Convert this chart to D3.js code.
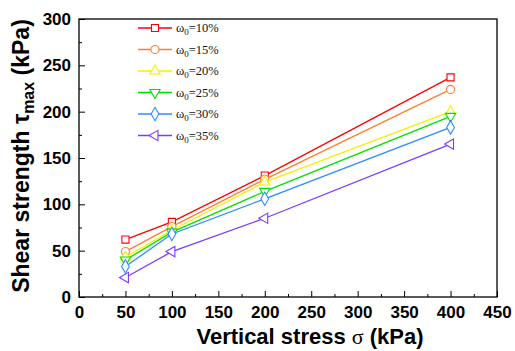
<!DOCTYPE html>
<html>
<head>
<meta charset="utf-8">
<script src="https://cdn.jsdelivr.net/npm/d3@7"></script>
<style>
  body { margin: 0; background: #fff; }
  .tick text { font-family: Arial, "Liberation Sans", sans-serif; font-weight: bold; font-size: 17px; fill: #000; }
</style>
</head>
<body>
<div id="chart"></div>
<script>
// data
var stress = [50, 100, 200, 400];
var seriesNames = ["10%", "15%", "20%", "25%", "30%", "35%"];
var w10 = [62, 81, 131, 237];
var w15 = [49, 76, 127, 224];
var w20 = [43, 72, 124, 200];
var w25 = [40, 70, 114, 195];
var w30 = [33, 68, 106, 183];
var w35 = [21, 49, 85, 165];
var allSeries = [w10, w15, w20, w25, w30, w35];
var colors = ["#ff0000", "#ff7f2a", "#f5f000", "#00e000", "#2a8cff", "#7a3cff"];
var xTicks = [0, 50, 100, 150, 200, 250, 300, 350, 400, 450];
var yTicks = [0, 50, 100, 150, 200, 250, 300];

var svgWidth = 515;
var svgHeight = 351;
var margin = { top: 19, right: 18, bottom: 54, left: 79 };
var chartWidth = svgWidth - margin.left - margin.right;
var chartHeight = svgHeight - margin.top - margin.bottom;

var svg = d3.select("#chart").append("svg")
  .attr("width", svgWidth)
  .attr("height", svgHeight);

var chartGroup = svg.append("g")
  .attr("transform", `translate(${margin.left}, ${margin.top})`);

var xScale = d3.scaleLinear().domain([0, 450]).range([0, chartWidth]);
var yScale = d3.scaleLinear().domain([0, 300]).range([chartHeight, 0]);

// minor ticks
chartGroup.append("g")
  .attr("transform", `translate(0, ${chartHeight})`)
  .call(d3.axisBottom(xScale).tickValues(d3.range(25, 450, 50)).tickSize(-3).tickFormat(""))
  .call(g => g.select(".domain").remove());
chartGroup.append("g")
  .call(d3.axisLeft(yScale).tickValues(d3.range(25, 300, 50)).tickSize(-3).tickFormat(""))
  .call(g => g.select(".domain").remove());

// major ticks
chartGroup.append("g")
  .attr("transform", `translate(0, ${chartHeight})`)
  .call(d3.axisBottom(xScale).tickValues(xTicks).tickSize(-6).tickPadding(9))
  .call(g => g.select(".domain").remove());
chartGroup.append("g")
  .call(d3.axisLeft(yScale).tickValues(yTicks).tickSize(-6).tickPadding(8))
  .call(g => g.select(".domain").remove());

chartGroup.selectAll(".tick line").attr("stroke", "#000").attr("stroke-width", 1);

// frame
chartGroup.append("rect")
  .attr("width", chartWidth)
  .attr("height", chartHeight)
  .attr("fill", "none")
  .attr("stroke", "#000")
  .attr("stroke-width", 1.3);

var symbols = [d3.symbolSquare, d3.symbolCircle, d3.symbolTriangle, d3.symbolTriangle, d3.symbolDiamond, d3.symbolTriangle];
var rotations = [0, 0, 0, 180, 0, -90];
var sizes = [50, 52, 46, 46, 52, 46];

var line = d3.line()
  .x((d, i) => xScale(stress[i]))
  .y(d => yScale(d));

allSeries.forEach(function(vals, k) {
  chartGroup.append("path")
    .datum(vals)
    .attr("fill", "none")
    .attr("stroke", colors[k])
    .attr("stroke-width", 1.3)
    .attr("d", line);

  chartGroup.selectAll(".pt" + k)
    .data(vals)
    .enter()
    .append("path")
    .attr("class", "pt" + k)
    .attr("d", d3.symbol().type(symbols[k]).size(sizes[k]))
    .attr("transform", (d, i) => `translate(${xScale(stress[i])}, ${yScale(d)}) rotate(${rotations[k]})`)
    .attr("fill", "#fff")
    .attr("stroke", colors[k])
    .attr("stroke-width", 1.1);
});

// legend
var legend = svg.append("g").attr("transform", "translate(138, 28)");
seriesNames.forEach(function(name, k) {
  var row = legend.append("g").attr("transform", `translate(0, ${k * 21.5})`);
  row.append("line")
    .attr("x1", 0).attr("x2", 34)
    .attr("stroke", colors[k]).attr("stroke-width", 1.3);
  row.append("path")
    .attr("d", d3.symbol().type(symbols[k]).size(sizes[k]))
    .attr("transform", `translate(17, 0) rotate(${rotations[k]})`)
    .attr("fill", "#fff")
    .attr("stroke", colors[k])
    .attr("stroke-width", 1.1);
  var t = row.append("text")
    .attr("x", 38)
    .attr("y", 4)
    .style("font-family", "'Liberation Serif', 'Times New Roman', serif")
    .style("font-size", "12.5px")
    .attr("fill", "#111");
  t.append("tspan").text("\u03c9");
  t.append("tspan").attr("dy", 3).style("font-size", "9px").text("0");
  t.append("tspan").attr("dy", -3).text("=" + name);
});

// axis titles
var yTitle = svg.append("text")
  .attr("transform", `translate(29, 156) rotate(-90)`)
  .attr("text-anchor", "middle")
  .style("font-family", "Arial, 'Liberation Sans', sans-serif")
  .style("font-weight", "bold")
  .style("font-size", "23px");
yTitle.append("tspan").text("Shear strength \u03c4");
yTitle.append("tspan").attr("dy", 5).style("font-size", "16px").text("max");
yTitle.append("tspan").attr("dy", -5).text(" (kPa)");

var xTitle = svg.append("text")
  .attr("x", 310)
  .attr("y", 344)
  .attr("text-anchor", "middle")
  .style("font-family", "Arial, 'Liberation Sans', sans-serif")
  .style("font-weight", "bold")
  .style("font-size", "22px");
xTitle.append("tspan").text("Vertical stress ");
xTitle.append("tspan").style("font-family", "'Liberation Serif', serif").style("font-weight", "normal").text("\u03c3");
xTitle.append("tspan").text(" (kPa)");
</script>
</body>
</html>
